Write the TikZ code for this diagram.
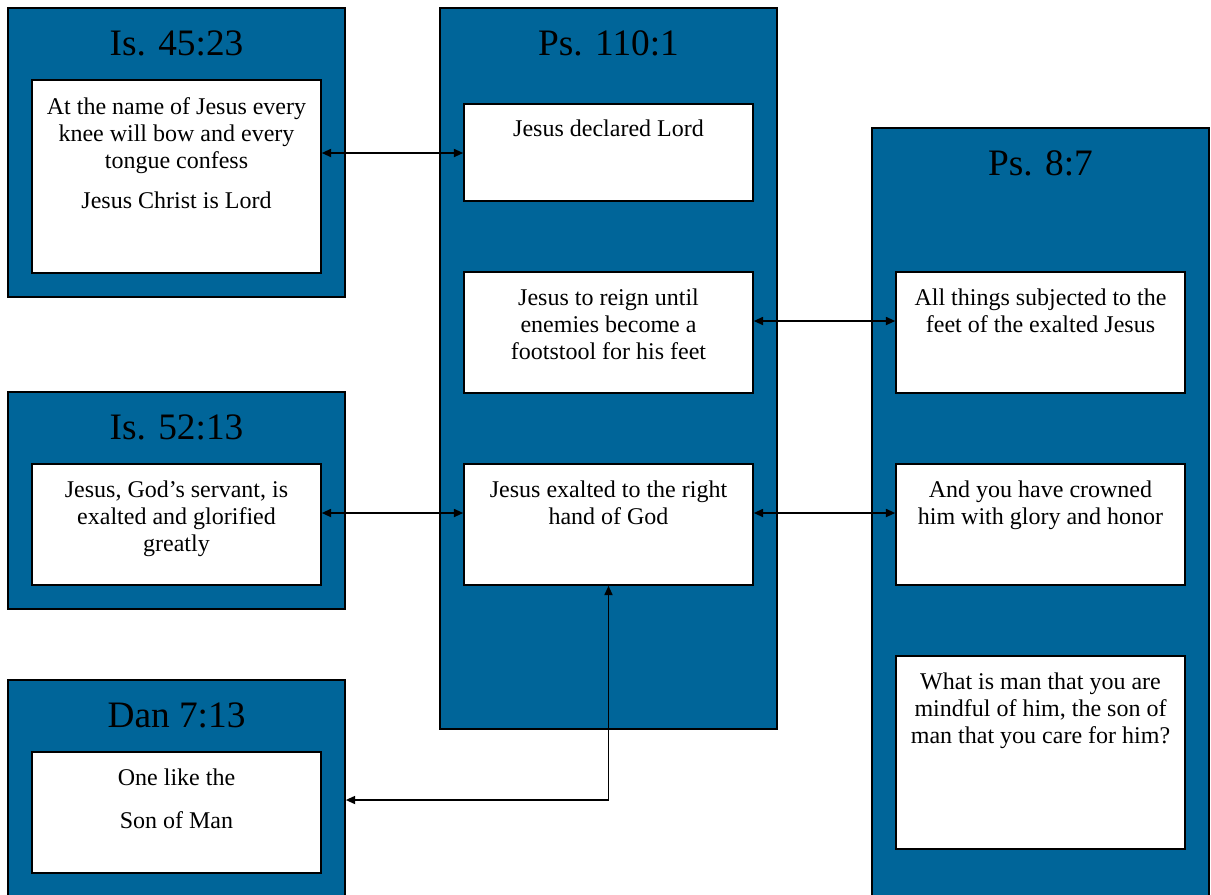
\documentclass[tikz,border=0pt]{standalone}
\usepackage{fontspec}
\setmainfont{Liberation Serif}
\usetikzlibrary{fit,arrows.meta}
\definecolor{panelblue}{RGB}{0,101,153}
\tikzset{
  panel/.style={draw=black, line width=1.2pt, fill=panelblue, inner sep=0pt},
  inbox/.style={draw=black, line width=1.1pt, fill=white, inner sep=0pt},
  ttl/.style={font=\fontsize{28}{32}\selectfont, inner sep=0pt, anchor=center},
  txt/.style={font=\fontsize{18}{20.25}\selectfont, align=center, inner sep=0pt, anchor=north},
  arr/.style={line width=1.3pt, {Triangle[length=7pt,width=6pt]}-{Triangle[length=7pt,width=6pt]}},
  arrone/.style={line width=1.3pt, -{Triangle[length=7pt,width=6pt]}}
}
\begin{document}
\begin{tikzpicture}[x=0.75pt,y=-0.75pt]
\useasboundingbox (0,0) rectangle (1211,894);
\clip (0,0) rectangle (1211,894);
% panels
\node[panel, fit={(8,8)(345,297)}] (p1) {};
\node[panel, fit={(440,8)(777,729)}] (p2) {};
\node[panel, fit={(872,128)(1209,905)}] (p3) {};
\node[panel, fit={(8,392)(345,609)}] (p4) {};
\node[panel, fit={(8,680)(345,905)}] (p5) {};
% titles
\node[ttl] (t1) at (176.5,43) {Is. 45:23};
\node[ttl] (t2) at (608.5,43) {Ps. 110:1};
\node[ttl] (t3) at (1040.5,163) {Ps. 8:7};
\node[ttl] (t4) at (176.5,427) {Is. 52:13};
\node[ttl] (t5) at (176.5,715) {Dan 7:13};
% inner boxes
\node[inbox, fit={(32,80)(321,273)}] (a1) {};
\node[inbox, fit={(464,104)(753,201)}] (b1) {};
\node[inbox, fit={(464,272)(753,393)}] (b2) {};
\node[inbox, fit={(464,464)(753,585)}] (b3) {};
\node[inbox, fit={(896,272)(1185,393)}] (c1) {};
\node[inbox, fit={(896,464)(1185,585)}] (c2) {};
\node[inbox, fit={(896,656)(1185,849)}] (c3) {};
\node[inbox, fit={(32,464)(321,585)}] (d1) {};
\node[inbox, fit={(32,752)(321,873)}] (e1) {};
% texts
\node[txt] (a1t) at (176.5,97) {At the name of Jesus every\\knee will bow and every\\tongue confess\\[10pt]Jesus Christ is Lord};
\node[txt] (b1t) at (608.5,120) {Jesus declared Lord};
\node[txt] (b2t) at (608.5,289) {Jesus to reign until\\enemies become a\\footstool for his feet};
\node[txt] (b3t) at (608.5,481) {Jesus exalted to the right\\hand of God};
\node[txt] (c1t) at (1040.5,289) {All things subjected to the\\feet of the exalted Jesus};
\node[txt] (c2t) at (1040.5,481) {And you have crowned\\him with glory and honor};
\node[txt] (c3t) at (1040.5,673) {What is man that you are\\mindful of him, the son of\\man that you care for him?};
\node[txt] (d1t) at (176.5,481) {Jesus, God’s servant, is\\exalted and glorified\\greatly};
\node[txt] (e1t) at (176.5,769) {One like the\\[12pt]Son of Man};
% connectors
\coordinate (y1) at (0,153);
\coordinate (y2) at (0,321);
\coordinate (y3) at (0,513);
\coordinate (turn) at (608.5,800);
\draw[arr] (a1.east |- y1) -- (b1.west |- y1);
\draw[arr] (b2.east |- y2) -- (c1.west |- y2);
\draw[arr] (d1.east |- y3) -- (b3.west |- y3);
\draw[arr] (b3.east |- y3) -- (c2.west |- y3);
\draw[arrone] (turn) -- (b3.south);
\draw[arrone] (turn) -- (p5.east |- turn);
\end{tikzpicture}
\end{document}
